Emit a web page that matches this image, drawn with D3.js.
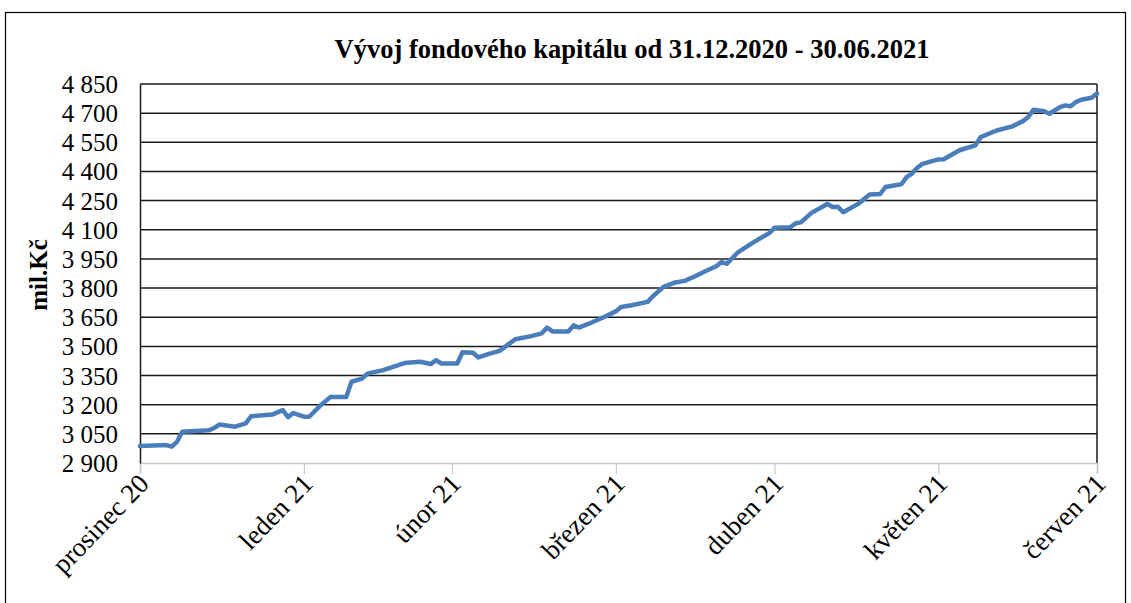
<!DOCTYPE html>
<html>
<head>
<meta charset="utf-8">
<script src="https://cdn.jsdelivr.net/npm/d3@7"></script>
<style>
  body { margin: 0; background: #fff; }
  text { font-family: "Liberation Serif", "Times New Roman", serif; }
</style>
</head>
<body>
<svg id="chart"></svg>
<script>
// ----------------------------------------------------------------------------------------------------------------------
// DATA -----------------------------------------------------------------------------------------------------------------
// ----------------------------------------------------------------------------------------------------------------------

var dates = [
  "2020-12-31", "2021-01-05", "2021-01-06", "2021-01-07", "2021-01-08", "2021-01-13", "2021-01-14", "2021-01-15",
  "2021-01-18", "2021-01-20", "2021-01-21", "2021-01-25", "2021-01-27", "2021-01-28", "2021-01-29", "2021-01-31",
  "2021-02-01", "2021-02-03", "2021-02-05", "2021-02-08", "2021-02-09", "2021-02-11", "2021-02-12", "2021-02-15",
  "2021-02-17", "2021-02-19", "2021-02-22", "2021-02-24", "2021-02-25", "2021-02-26", "2021-03-01", "2021-03-02",
  "2021-03-04", "2021-03-05", "2021-03-07", "2021-03-09", "2021-03-12", "2021-03-15", "2021-03-17", "2021-03-18",
  "2021-03-19", "2021-03-22", "2021-03-23", "2021-03-24", "2021-03-26", "2021-03-29", "2021-03-31", "2021-04-01",
  "2021-04-03", "2021-04-06", "2021-04-07", "2021-04-09", "2021-04-11", "2021-04-13", "2021-04-15", "2021-04-17",
  "2021-04-19", "2021-04-20", "2021-04-21", "2021-04-23", "2021-04-26", "2021-04-29", "2021-04-30", "2021-05-03",
  "2021-05-04", "2021-05-05", "2021-05-07", "2021-05-10", "2021-05-11", "2021-05-12", "2021-05-13", "2021-05-16",
  "2021-05-18", "2021-05-20", "2021-05-21", "2021-05-24", "2021-05-25", "2021-05-26", "2021-05-27", "2021-05-28",
  "2021-05-31", "2021-06-01", "2021-06-04", "2021-06-07", "2021-06-08", "2021-06-11", "2021-06-14", "2021-06-16",
  "2021-06-17", "2021-06-18", "2021-06-20", "2021-06-21", "2021-06-23", "2021-06-24", "2021-06-25", "2021-06-26",
  "2021-06-27", "2021-06-29", "2021-06-30"
];

// fund capital, mil. Kč
var values = [
  2987, 2992, 2984, 3009, 3061, 3068, 3080, 3098,
  3087, 3104, 3140, 3149, 3172, 3136, 3157, 3138,
  3138, 3193, 3239, 3239, 3318, 3334, 3360, 3378,
  3396, 3414, 3421, 3409, 3429, 3412, 3412, 3470,
  3467, 3443, 3461, 3477, 3537, 3553, 3567, 3597,
  3577, 3577, 3608, 3597, 3618, 3654, 3680, 3703,
  3712, 3729, 3758, 3806, 3827, 3837, 3861, 3888,
  3912, 3934, 3925, 3982, 4035, 4083, 4110, 4113,
  4134, 4138, 4187, 4233, 4217, 4218, 4190, 4236,
  4282, 4284, 4320, 4334, 4371, 4389, 4419, 4439,
  4462, 4463, 4509, 4534, 4577, 4611, 4632, 4659,
  4680, 4718, 4710, 4697, 4731, 4740, 4735, 4757,
  4769, 4779, 4801
];

// month-end ticks and their labels
var tickDates = ["2020-12-31", "2021-01-31", "2021-02-28", "2021-03-31", "2021-04-30", "2021-05-31", "2021-06-30"];
var tickLabels = ["prosinec 20", "leden 21", "únor 21", "březen 21", "duben 21", "květen 21", "červen 21"];

var yTicks = [2900, 3050, 3200, 3350, 3500, 3650, 3800, 3950, 4100, 4250, 4400, 4550, 4700, 4850];

var chartTitle = "Vývoj fondového kapitálu od 31.12.2020 - 30.06.2021";
var yTitle = "mil.Kč";

// ----------------------------------------------------------------------------------------------------------------------
// SETUP ----------------------------------------------------------------------------------------------------------------
// ----------------------------------------------------------------------------------------------------------------------

var width = 1131,
    height = 603;

var plot = { left: 140, right: 1097, top: 84, bottom: 463 };

var parseDate = d3.timeParse("%Y-%m-%d");

var series = dates.map(function(d, i) {
  return { date: parseDate(d), value: values[i] };
});

var svg = d3.select("#chart")
  .attr("width", width)
  .attr("height", height);

// Outer frame
svg.append("rect")
  .attr("x", 5.5)
  .attr("y", 12.5)
  .attr("width", 1120)
  .attr("height", 620)
  .attr("fill", "#fff")
  .attr("stroke", "#000")
  .attr("stroke-width", 1.2);

// Scales
var x = d3.scaleTime()
  .domain([parseDate(tickDates[0]), parseDate(tickDates[tickDates.length - 1])])
  .range([plot.left, plot.right]);

var y = d3.scaleLinear()
  .domain([2900, 4850])
  .range([plot.bottom, plot.top]);

var czLocale = d3.formatLocale({ decimal: ",", thousands: " ", grouping: [3], currency: ["", " Kč"] });
var fmt = czLocale.format(",.0f");

// ----------------------------------------------------------------------------------------------------------------------
// AXES & GRID ----------------------------------------------------------------------------------------------------------
// ----------------------------------------------------------------------------------------------------------------------

// Horizontal gridlines (black)
svg.append("g")
  .selectAll("line")
  .data(yTicks.slice(1))
  .enter().append("line")
    .attr("x1", plot.left)
    .attr("x2", plot.right)
    .attr("y1", function(d) { return y(d); })
    .attr("y2", function(d) { return y(d); })
    .attr("stroke", "#1a1a1a")
    .attr("stroke-width", 1.5);

// Right border of plot area
svg.append("line")
  .attr("x1", plot.right).attr("x2", plot.right)
  .attr("y1", plot.top).attr("y2", plot.bottom)
  .attr("stroke", "#1a1a1a")
  .attr("stroke-width", 1.5);

// X axis (grey)
var xAxis = d3.axisBottom(x)
  .tickValues(tickDates.map(parseDate))
  .tickSize(11)
  .tickFormat(function(d, i) { return tickLabels[i]; });

var gx = svg.append("g")
  .attr("transform", "translate(0," + plot.bottom + ")")
  .call(xAxis);

gx.select(".domain").attr("stroke", "#c8c8c8").attr("stroke-width", 1.5);
gx.selectAll(".tick line").attr("stroke", "#c8c8c8").attr("stroke-width", 1.2);
gx.selectAll(".tick text")
  .attr("fill", "#000")
  .style("font-size", "27px")
  .style("text-anchor", "end")
  .attr("dy", null)
  .attr("y", 0)
  .attr("transform", "translate(10,22) rotate(-46)");

// Y axis (black, no outer ticks)
var yAxis = d3.axisLeft(y)
  .tickValues(yTicks)
  .tickSize(0)
  .tickPadding(22)
  .tickFormat(fmt);

var gy = svg.append("g")
  .attr("transform", "translate(" + plot.left + ",0)")
  .call(yAxis);

gy.select(".domain").attr("stroke", "#1a1a1a").attr("stroke-width", 1.5);
gy.selectAll(".tick text")
  .attr("fill", "#000")
  .attr("dy", "0.34em")
  .style("font-size", "25px");

// ----------------------------------------------------------------------------------------------------------------------
// LINE -----------------------------------------------------------------------------------------------------------------
// ----------------------------------------------------------------------------------------------------------------------

var line = d3.line()
  .x(function(d) { return x(d.date); })
  .y(function(d) { return y(d.value); });

svg.append("path")
  .datum(series)
  .attr("d", line)
  .attr("fill", "none")
  .attr("stroke", "#4a7ebb")
  .attr("stroke-width", 4.5)
  .attr("stroke-linejoin", "round")
  .attr("stroke-linecap", "round");

// ----------------------------------------------------------------------------------------------------------------------
// TITLES ---------------------------------------------------------------------------------------------------------------
// ----------------------------------------------------------------------------------------------------------------------

svg.append("text")
  .attr("x", 632)
  .attr("y", 58)
  .style("text-anchor", "middle")
  .style("font-size", "26.5px")
  .style("font-weight", "bold")
  .attr("fill", "#000")
  .text(chartTitle);

svg.append("text")
  .attr("transform", "translate(47,275) rotate(-90)")
  .style("text-anchor", "middle")
  .style("font-size", "25px")
  .style("font-weight", "bold")
  .attr("fill", "#000")
  .text(yTitle);
</script>
</body>
</html>
